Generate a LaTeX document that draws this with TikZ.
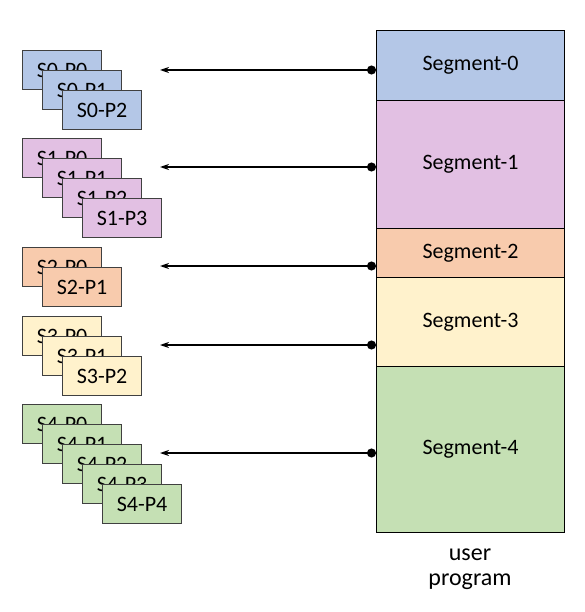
\documentclass[tikz,border=0pt]{standalone}
\usepackage{fontspec}
\setmainfont{Carlito}
\usetikzlibrary{arrows.meta}
\definecolor{segblue}{HTML}{B4C7E7}
\definecolor{segpink}{HTML}{E2C0E3}
\definecolor{segorange}{HTML}{F8CBAD}
\definecolor{segyellow}{HTML}{FFF2CC}
\definecolor{seggreen}{HTML}{C5E0B4}
\begin{document}
\begin{tikzpicture}[x=1pt,y=-1pt,
  page/.style={draw=black!75,line width=1.2pt,minimum width=79pt,minimum height=39pt,
    inner sep=0pt,anchor=north west,font=\fontsize{22}{24}\selectfont},
  seg/.style={draw=black,line width=1pt,minimum width=188pt,inner sep=0pt,
    anchor=north west,font=\fontsize{22}{24}\selectfont},
  link/.style={line width=1.3pt,{Stealth[length=9pt,width=6pt]}-{Circle[length=9pt]}}]
			\useasboundingbox (0,0) rectangle (585,612);
			% user program
			\node[seg,fill=segblue,minimum height=70pt] (seg0) at (376,30) {Segment-0};
			\node[seg,fill=segpink,minimum height=128pt] (seg1) at (376,100) {Segment-1};
			\node[seg,fill=segorange,minimum height=49pt] (seg2) at (376,228) {Segment-2};
			\node[seg,fill=segyellow,minimum height=89pt] (seg3) at (376,277) {Segment-3};
			\node[seg,fill=seggreen,minimum height=166pt] (seg4) at (376,366) {Segment-4};
			\node[align=center,font=\fontsize{24}{25}\selectfont] (prog) at (470,569) {user\\program};
			% pages
			\foreach \i in {0,...,2}
				\node[page,fill=segblue] (s0p\i) at (22+20*\i,50+20*\i) {S0-P\i};
			\foreach \i in {0,...,3}
				\node[page,fill=segpink] (s1p\i) at (22+20*\i,138+20*\i) {S1-P\i};
			\foreach \i in {0,...,1}
				\node[page,fill=segorange] (s2p\i) at (22+20*\i,247+20*\i) {S2-P\i};
			\foreach \i in {0,...,2}
				\node[page,fill=segyellow] (s3p\i) at (22+20*\i,316+20*\i) {S3-P\i};
			\foreach \i in {0,...,4}
				\node[page,fill=seggreen] (s4p\i) at (22+20*\i,404+20*\i) {S4-P\i};
			% links
			\path (376,70) coordinate (d0);
			\path (376,167) coordinate (d1);
			\path (376,266) coordinate (d2);
			\path (376,345) coordinate (d3);
			\path (376,453) coordinate (d4);
			\path (160,70) coordinate (t0);
			\path (160,167) coordinate (t1);
			\path (160,266) coordinate (t2);
			\path (160,345) coordinate (t3);
			\path (160,453) coordinate (t4);
			\foreach \i in {0,...,4}
				\draw[link] (t\i) -- (d\i);
		\end{tikzpicture}
\end{document}
